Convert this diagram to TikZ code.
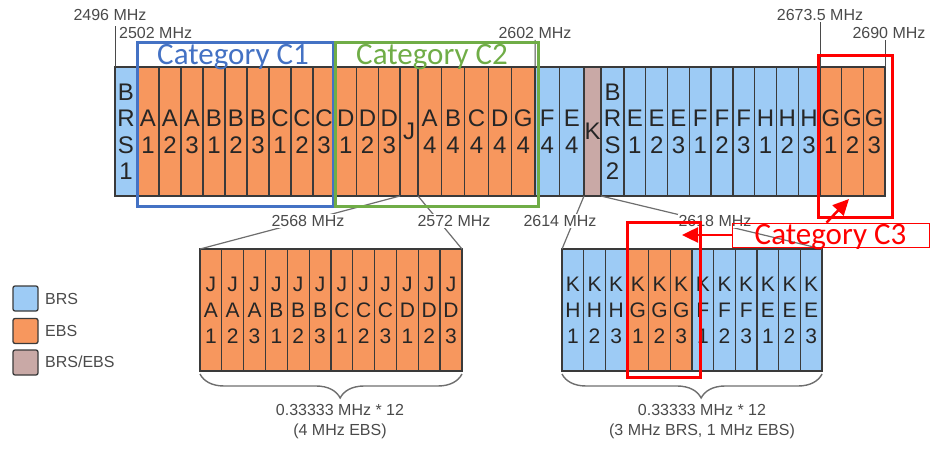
\documentclass[tikz,border=0pt]{standalone}
\usepackage{fontspec}
\setmainfont{Liberation Sans}
\newfontfamily\catfont{Carlito}
\usetikzlibrary{arrows.meta,decorations.pathreplacing}
\definecolor{brsblue}{HTML}{9DCBF5}
\definecolor{ebsorange}{HTML}{F7975E}
\definecolor{mixmauve}{HTML}{C9A9A6}
\definecolor{cellline}{HTML}{3A3A3A}
\definecolor{txtgray}{HTML}{4A4A4A}
\definecolor{catblue}{HTML}{4472C4}
\definecolor{catgreen}{HTML}{70AD47}
\definecolor{catred}{HTML}{FF0000}

\begin{document}
\begin{tikzpicture}[x=1pt, y=-1pt,
		every node/.style={text=black!85},
		cell/.style={draw=cellline, line width=1.3pt, inner sep=0pt, outer sep=0pt, anchor=north west, align=center, minimum height=129, text depth=-11pt, font=\fontsize{24}{26.5}\selectfont},
		subcell/.style={draw=cellline, line width=1.3pt, inner sep=0pt, outer sep=0pt, anchor=north west, align=center, minimum height=122, font=\fontsize{21}{26}\selectfont},
		freq/.style={font=\fontsize{16}{18}\selectfont, text=txtgray, inner sep=1pt},
		tick/.style={draw=txtgray, line width=1pt},
		conn/.style={draw=txtgray!80, line width=1.2pt},
		brace/.style={draw=txtgray!80, line width=1.4pt, decorate, decoration={brace, mirror, amplitude=24pt, aspect=0.535}},
		catbox/.style={line width=3pt},
		cattext/.style={font=\catfont\fontsize{31}{34}\selectfont, anchor=base},
		redarr/.style={draw=catred, line width=2.5pt, -{Triangle[length=16pt, width=15pt]}},
		key/.style={draw=cellline, line width=1.3pt, rounded corners=2pt, minimum size=25, inner sep=0pt},
		keytext/.style={freq, anchor=west}
	]
	\useasboundingbox (0,0) rectangle (931,454);

	% top band
	\node[cell, fill=brsblue, minimum width=22] (t-BRS1) at (115,67) {B\\R\\S\\1};
	\foreach \lt/\nm [count=\i] in {A/1,A/2,A/3,B/1,B/2,B/3,C/1,C/2,C/3}
		\node[cell, fill=ebsorange, minimum width=22] (t-\lt\nm) at ({115+22*\i},67) {\lt\\\nm};
	\foreach \nm [count=\i from 0] in {1,2,3}
		\node[cell, fill=ebsorange, minimum width=21.7] (t-D\nm) at ({335+21.7*\i},67) {D\\\nm};
	\node[cell, fill=ebsorange, minimum width=18] (t-J) at (400,67) {J};
	\foreach \lt [count=\i from 0] in {A,B,C,D,G}
		\node[cell, fill=ebsorange, minimum width=23.4] (t-\lt4) at ({418+23.4*\i},67) {\lt\\4};
	\foreach \lt [count=\i from 0] in {F,E}
		\node[cell, fill=brsblue, minimum width=24.5] (t-\lt4) at ({535+24.5*\i},67) {\lt\\4};
	\node[cell, fill=mixmauve, minimum width=17] (t-K) at (584,67) {K};
	\node[cell, fill=brsblue, minimum width=23] (t-BRS2) at (601,67) {B\\R\\S\\2};
	\foreach \lt/\nm [count=\i from 0] in {E/1,E/2,E/3,F/1,F/2,F/3,H/1,H/2,H/3}
		\node[cell, fill=brsblue, minimum width=21.78] (t-\lt\nm) at ({624+21.78*\i},67) {\lt\\\nm};
	\foreach \nm [count=\i from 0] in {1,2,3}
		\node[cell, fill=ebsorange, minimum width=21.67] (t-G\nm) at ({820+21.67*\i},67) {G\\\nm};

	% expanded J and K
	\foreach \lt/\nm [count=\i from 0] in {A/1,A/2,A/3,B/1,B/2,B/3,C/1,C/2,C/3,D/1,D/2,D/3}
		\node[subcell, fill=ebsorange, minimum width=21.83] (j\i) at ({200+21.83*\i},249) {J\\\lt\\\nm};
	\foreach \lt/\nm/\fl [count=\i from 0] in {H/1/brsblue,H/2/brsblue,H/3/brsblue,G/1/ebsorange,G/2/ebsorange,G/3/ebsorange,F/1/brsblue,F/2/brsblue,F/3/brsblue,E/1/brsblue,E/2/brsblue,E/3/brsblue}
		\node[subcell, fill=\fl, minimum width=21.67] (k\i) at ({562+21.67*\i},249) {K\\\lt\\\nm};

	\draw[conn] (t-J.south west) -- (j0.north west);
	\draw[conn] (t-J.south east) -- (j11.north east);
	\draw[conn] (t-K.south west) -- (k0.north west);
	\draw[conn] (t-K.south east) -- (k11.north east);

	\draw[brace] ([yshift=-3pt]j0.south west) -- ([yshift=-3pt]j11.south east);
	\draw[brace] ([yshift=-3pt]k0.south west) -- ([yshift=-3pt]k11.south east);
	\node[freq, align=center, font=\fontsize{16}{20}\selectfont] (bl) at (340,422) {0.33333 MHz * 12\\(4 MHz EBS)};
	\node[freq, align=center, font=\fontsize{16}{20}\selectfont] (br) at (702,422) {0.33333 MHz * 12\\(3 MHz BRS, 1 MHz EBS)};

	% frequencies
	\node[freq] (f2496) at (110,15) {2496 MHz};
	\node[freq, anchor=west] (f2502) at (118,33) {2502 MHz};
	\node[freq] (f2602) at (535,33) {2602 MHz};
	\node[freq] (f2673) at (820,15) {2673.5 MHz};
	\node[freq] (f2690) at (889,33) {2690 MHz};
	\node[freq, fill=white] (f2568) at (308,221) {2568 MHz};
	\node[freq, fill=white] (f2572) at (454,221) {2572 MHz};
	\node[freq, fill=white] (f2614) at (560,221) {2614 MHz};
	\node[freq, fill=white] (f2618) at (715,221) {2618 MHz};

	\draw[tick] (t-BRS1.north west) -- (t-BRS1.north west |- f2502.north);
	\draw[tick] (t-G4.north east) -- (f2602.south);
	\draw[tick] (t-G1.north west) -- (t-G1.north west |- f2673.south);
	\draw[tick] (t-G3.north east) -- (t-G3.north east |- f2690.south);

	% legend
	\node[key, fill=brsblue] (k-brs) at (25.5,298.5) {};
	\node[key, fill=ebsorange] (k-ebs) at (25.5,331) {};
	\node[key, fill=mixmauve] (k-mix) at (25.5,362.5) {};
	\node[keytext] (l-brs) at (44,299) {BRS};
	\node[keytext] (l-ebs) at (44,331) {EBS};
	\node[keytext] (l-mix) at (44,362) {BRS/EBS};

	% categories
	\draw[catbox, catblue] (137,43) rectangle (333,207);
	\node[cattext, text=catblue] (c1) at (233,65) {Category C1};
	\draw[catbox, catgreen] (335,43) rectangle (538,207);
	\node[cattext, text=catgreen] (c2) at (432,65) {Category C2};
	\draw[catbox, catred] (818,56) rectangle (892,218);
	\draw[catbox, catred] (627,223) rectangle (700,377);
	\node[draw=catred, line width=0.8pt, minimum width=197, minimum height=24, inner sep=0pt, text=catred, font=\catfont\fontsize{31}{34}\selectfont, text height=22pt, text depth=2pt] (c3) at (830.5,235) {Category C3};

	\coordinate (c3tip) at (682,235);
	\coordinate (g3tip) at (849,199);
	\draw[redarr] (c3.west) -- (c3tip);
	\draw[redarr] ([xshift=-4pt]c3.north) -- (g3tip);
\end{tikzpicture}
\end{document}
